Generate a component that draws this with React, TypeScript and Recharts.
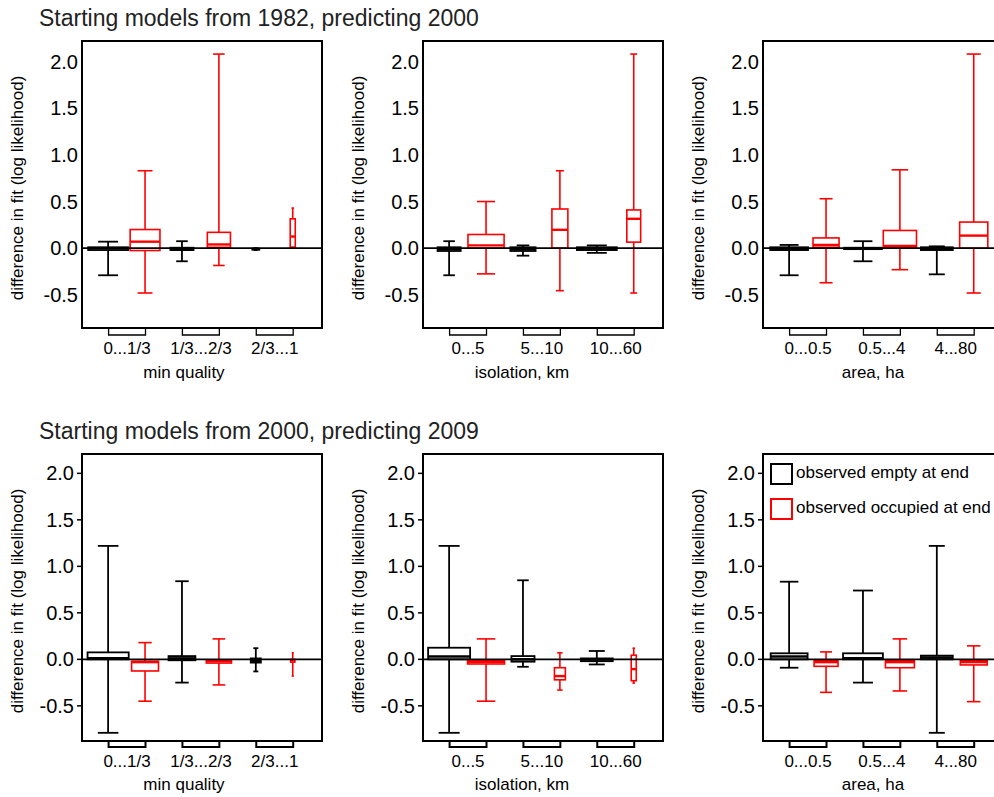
import React from "react";
import { ComposedChart, Bar, XAxis, YAxis, ReferenceLine, ReferenceArea } from "recharts";

// five-number summaries per box: [lower whisker, q1, median, q3, upper whisker]
// order in each panel: empty, occupied for group 1, then group 2, then group 3
const qualityEarly = [
  [-0.29, -0.02, 0.0, 0.01, 0.07],
  [-0.48, -0.025, 0.07, 0.2, 0.83],
  [-0.14, -0.02, -0.01, 0.005, 0.075],
  [-0.185, 0.01, 0.04, 0.17, 2.08],
  [-0.02, -0.015, -0.01, -0.005, 0.0],
  [0.01, 0.01, 0.125, 0.315, 0.43],
];
const isolationEarly = [
  [-0.29, -0.03, -0.01, 0.01, 0.075],
  [-0.275, 0.0, 0.03, 0.147, 0.5],
  [-0.08, -0.03, -0.01, 0.01, 0.03],
  [-0.455, 0.0, 0.197, 0.42, 0.83],
  [-0.05, -0.02, -0.005, 0.01, 0.03],
  [-0.48, 0.065, 0.315, 0.41, 2.08],
];
const areaEarly = [
  [-0.29, -0.02, -0.005, 0.01, 0.035],
  [-0.37, 0.01, 0.035, 0.11, 0.53],
  [-0.14, -0.01, 0.0, 0.005, 0.075],
  [-0.23, 0.005, 0.025, 0.19, 0.84],
  [-0.28, -0.02, -0.005, 0.01, 0.02],
  [-0.48, 0.0, 0.135, 0.28, 2.08],
];
const qualityLate = [
  [-0.79, 0.0, 0.01, 0.075, 1.22],
  [-0.45, -0.125, -0.03, -0.02, 0.18],
  [-0.25, -0.01, 0.01, 0.035, 0.84],
  [-0.275, -0.04, -0.02, -0.01, 0.22],
  [-0.13, -0.035, -0.02, 0.01, 0.12],
  [-0.18, -0.03, -0.01, 0.0, 0.07],
];
const isolationLate = [
  [-0.79, 0.0, 0.03, 0.125, 1.22],
  [-0.45, -0.05, -0.03, -0.01, 0.22],
  [-0.08, -0.025, 0.0, 0.035, 0.85],
  [-0.33, -0.22, -0.18, -0.09, 0.07],
  [-0.055, -0.02, 0.0, 0.01, 0.09],
  [-0.255, -0.23, -0.105, 0.045, 0.12],
];
const areaLate = [
  [-0.09, 0.0, 0.03, 0.065, 0.835],
  [-0.355, -0.075, -0.03, -0.015, 0.08],
  [-0.25, 0.0, 0.01, 0.065, 0.74],
  [-0.34, -0.09, -0.03, -0.015, 0.22],
  [-0.79, 0.0, 0.02, 0.04, 1.22],
  [-0.455, -0.06, -0.03, -0.015, 0.145],
];

// relative box widths (varwidth, ~sqrt of sample size)
const qualityEarlyN = [0.95, 0.71, 0.55, 0.55, 0.17, 0.12];
const isolationEarlyN = [0.55, 0.86, 0.6, 0.38, 0.95, 0.33];
const areaEarlyN = [0.9, 0.62, 0.9, 0.79, 0.76, 0.67];
const qualityLateN = [0.98, 0.64, 0.64, 0.6, 0.24, 0.1];
const isolationLateN = [1.0, 0.88, 0.55, 0.26, 0.76, 0.12];
const areaLateN = [0.88, 0.57, 0.95, 0.69, 0.76, 0.64];

const qualityLabels = ["0...1/3", "1/3...2/3", "2/3...1"];
const isolationLabels = ["0...5", "5...10", "10...60"];
const areaLabels = ["0...0.5", "0.5...4", "4...80"];
const groupCenters = [1.5, 3.5, 5.5];
const yTicks = [-0.5, 0, 0.5, 1, 1.5, 2];

const EMPTY = "#000000";
const OCCUPIED = "#ff0000";
const FONT = '"Liberation Sans", Arial, Helvetica, sans-serif';

const CHART_W = 340;
const CHART_H = 390;
const PLOT_TOP = 41;
const PLOT_W = 240;
const PLOT_H = 287;
const Y_AXIS_W = 82;
const X_DOMAIN: [number, number] = [0.28, 6.78];
const PX_PER_UNIT = PLOT_W / (X_DOMAIN[1] - X_DOMAIN[0]);
const MAX_BOX = 42;

function BoxShape(props: any) {
  const { x, y, width, height, payload } = props;
  const { lo, q1, med, q3, hi, w, color } = payload;
  const cx = x + width / 2;
  const span = hi - lo;
  const py = (v: number) => (span === 0 ? y : y + ((hi - v) / span) * height);
  const bw = w * MAX_BOX;
  const half = bw / 2;
  const cap = bw / 4;
  const lw = color === EMPTY ? 1.8 : 1.6;
  return (
    <g stroke={color} fill="none" strokeWidth={lw}>
      <line x1={cx} x2={cx} y1={py(hi)} y2={py(q3)} />
      <line x1={cx} x2={cx} y1={py(q1)} y2={py(lo)} />
      <line x1={cx - cap} x2={cx + cap} y1={py(hi)} y2={py(hi)} />
      <line x1={cx - cap} x2={cx + cap} y1={py(lo)} y2={py(lo)} />
      <rect x={cx - half} y={py(q3)} width={bw} height={Math.max(py(q1) - py(q3), 0.5)} />
      <line x1={cx - half} x2={cx + half} y1={py(med)} y2={py(med)} strokeWidth={lw + 0.8} />
    </g>
  );
}

function GroupTick(props: any) {
  const { x, y, payload, labels, heavy } = props;
  const i = groupCenters.indexOf(payload.value);
  const h = PX_PER_UNIT / 2;
  const d = heavy ? 6 : 7;
  return (
    <g>
      <path
        d={`M${x - h},${y} L${x - h},${y + d} L${x + h},${y + d} L${x + h},${y}`}
        fill="none"
        stroke="#000"
        strokeWidth={heavy ? 2 : 1.3}
      />
      <text x={x} y={y + 20} textAnchor="middle" dominantBaseline="central" fontSize={17} fill="#000" fontFamily={FONT}>
        {labels[i]}
      </text>
    </g>
  );
}

function Panel({ stats, widths, labels, yDomain, heavy }: any) {
  const rows = stats.map((s: number[], i: number) => ({
    pos: i + 1,
    lo: s[0],
    q1: s[1],
    med: s[2],
    q3: s[3],
    hi: s[4],
    w: widths[i],
    color: i % 2 === 0 ? EMPTY : OCCUPIED,
  }));
  return (
    <ComposedChart
      width={CHART_W}
      height={CHART_H}
      data={rows}
      margin={{ top: PLOT_TOP, right: CHART_W - Y_AXIS_W - PLOT_W, bottom: 0, left: 0 }}
    >
      <XAxis
        type="number"
        dataKey="pos"
        domain={X_DOMAIN}
        allowDataOverflow
        ticks={groupCenters}
        interval={0}
        axisLine={false}
        tickLine={false}
        tickSize={0}
        tickMargin={0}
        height={CHART_H - PLOT_TOP - PLOT_H}
        tick={(p: any) => <GroupTick {...p} labels={labels} heavy={heavy} />}
      />
      <YAxis
        type="number"
        domain={yDomain}
        allowDataOverflow
        ticks={yTicks}
        interval={0}
        width={Y_AXIS_W}
        axisLine={false}
        tickLine={heavy ? { stroke: "#000", strokeWidth: 1.5 } : false}
        tickSize={heavy ? 5 : 0}
        tickMargin={heavy ? 3 : 4}
        tickFormatter={(v: number) => v.toFixed(1)}
        tick={{ fontSize: 20, fill: "#000", fontFamily: FONT }}
      />
      <ReferenceArea
        x1={X_DOMAIN[0]}
        x2={X_DOMAIN[1]}
        y1={yDomain[0]}
        y2={yDomain[1]}
        fill="none"
        stroke="#000"
        strokeWidth={2}
        ifOverflow="visible"
      />
      <Bar dataKey={(r: any) => [r.lo, r.hi]} barSize={10} shape={(p: any) => <BoxShape {...p} />} isAnimationActive={false} />
      <ReferenceLine y={0} stroke="#000" strokeWidth={1.8} ifOverflow="visible" />
    </ComposedChart>
  );
}

const PANEL_LEFTS = [0, 340.5, 681];
const ROW_TOPS = [0, 413];
const TOP_DOMAIN: [number, number] = [-0.855, 2.22];
const BOTTOM_DOMAIN: [number, number] = [-0.878, 2.208];

const xTitles = ["min quality", "isolation, km", "area, ha"];
const xTitleCenters = [184, 522, 873];
const yLabel = "difference in fit (log likelihood)";

export default function App() {
  const rows = [
    {
      title: "Starting models from 1982, predicting 2000",
      domain: TOP_DOMAIN,
      heavy: false,
      panels: [
        [qualityEarly, qualityEarlyN, qualityLabels],
        [isolationEarly, isolationEarlyN, isolationLabels],
        [areaEarly, areaEarlyN, areaLabels],
      ],
    },
    {
      title: "Starting models from 2000, predicting 2009",
      domain: BOTTOM_DOMAIN,
      heavy: true,
      panels: [
        [qualityLate, qualityLateN, qualityLabels],
        [isolationLate, isolationLateN, isolationLabels],
        [areaLate, areaLateN, areaLabels],
      ],
    },
  ];

  return (
    <div
      style={{
        position: "absolute",
        left: 0,
        top: 0,
        width: 994,
        height: 797,
        overflow: "hidden",
        background: "#fff",
        fontFamily: FONT,
        color: "#000",
      }}
    >
      {rows.map((row, r) => (
        <React.Fragment key={r}>
          <div
            style={{
              position: "absolute",
              left: 39,
              top: ROW_TOPS[r] + 5,
              fontSize: 23,
              lineHeight: "26px",
              whiteSpace: "nowrap",
              color: "#222",
            }}
          >
            {row.title}
          </div>
          {row.panels.map((p, i) => (
            <React.Fragment key={i}>
              <div style={{ position: "absolute", left: PANEL_LEFTS[i], top: ROW_TOPS[r] }}>
                <Panel stats={p[0]} widths={p[1]} labels={p[2]} yDomain={row.domain} heavy={row.heavy} />
              </div>
              <div
                style={{
                  position: "absolute",
                  left: PANEL_LEFTS[i] + Y_AXIS_W - 64 - 160,
                  top: ROW_TOPS[r] + PLOT_TOP + PLOT_H / 2 + 3 - 11,
                  width: 320,
                  height: 22,
                  lineHeight: "22px",
                  textAlign: "center",
                  fontSize: 17,
                  transform: "rotate(-90deg)",
                  whiteSpace: "nowrap",
                }}
              >
                {yLabel}
              </div>
              <div
                style={{
                  position: "absolute",
                  left: xTitleCenters[i] - 100,
                  top: ROW_TOPS[r] + (r === 0 ? 373 : 372) - 11,
                  width: 200,
                  height: 22,
                  lineHeight: "22px",
                  textAlign: "center",
                  fontSize: 17,
                  whiteSpace: "nowrap",
                }}
              >
                {xTitles[i]}
              </div>
            </React.Fragment>
          ))}
        </React.Fragment>
      ))}
      {/* legend inside the bottom-right panel */}
      {[
        { label: "observed empty at end", color: EMPTY, cy: 473 },
        { label: "observed occupied at end", color: OCCUPIED, cy: 508 },
      ].map((l) => (
        <React.Fragment key={l.label}>
          <div
            style={{
              position: "absolute",
              left: 770,
              top: l.cy - 10.5,
              width: 19,
              height: 18,
              border: `2px solid ${l.color}`,
            }}
          />
          <div
            style={{
              position: "absolute",
              left: 796,
              top: l.cy - 11,
              height: 22,
              lineHeight: "22px",
              fontSize: 17,
              whiteSpace: "nowrap",
            }}
          >
            {l.label}
          </div>
        </React.Fragment>
      ))}
    </div>
  );
}
